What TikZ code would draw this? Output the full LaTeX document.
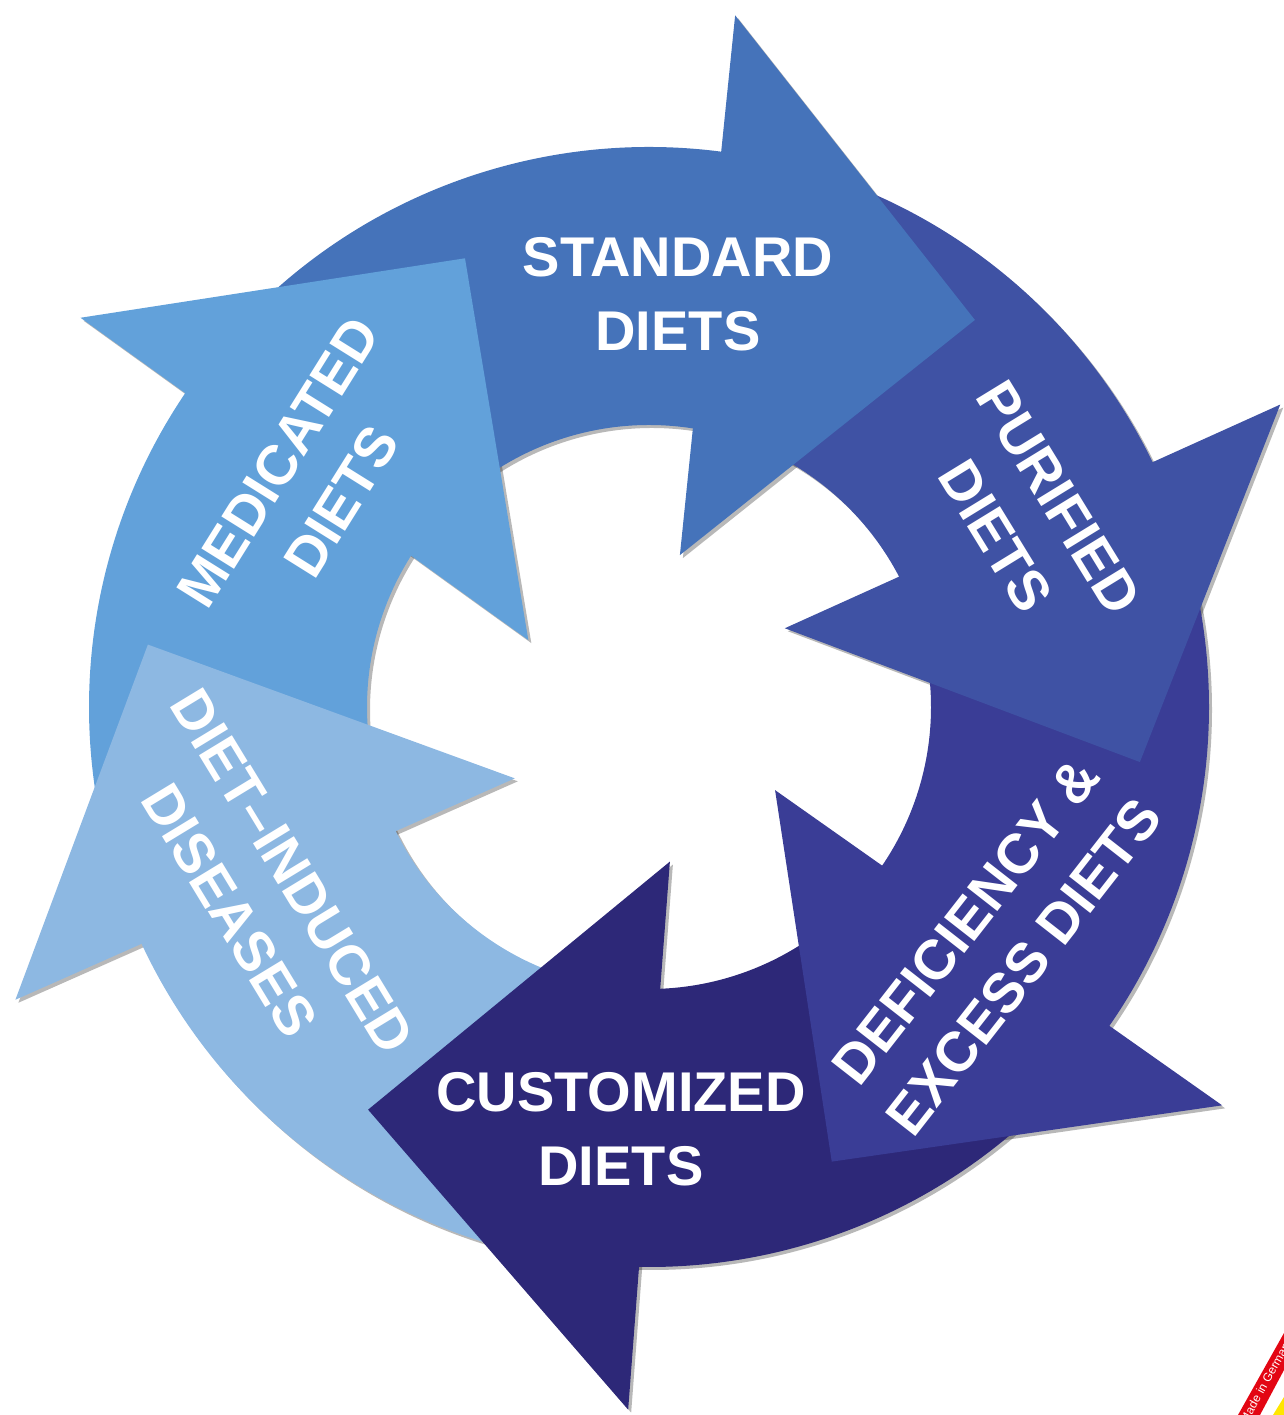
\documentclass[tikz,border=0pt]{standalone}
\usepackage{fontspec}
\setmainfont{Liberation Sans}

\definecolor{standardblue}{HTML}{4573BA}
\definecolor{purifiedblue}{HTML}{3F52A4}
\definecolor{deficiencyblue}{HTML}{3A3D96}
\definecolor{customizedblue}{HTML}{2D2878}
\definecolor{inducedblue}{HTML}{8DB8E2}
\definecolor{medicatedblue}{HTML}{62A1DA}
\definecolor{badgered}{HTML}{E30613}
\definecolor{badgeyellow}{HTML}{FFE600}

\begin{document}
\begin{tikzpicture}[x=0.5pt,y=0.5pt,
    dietshade/.style={black,opacity=0.28,xshift=1.5pt,yshift=-1.5pt},
    dietpaint/.style={#1},
    dietlabel/.style={text=white,font=\bfseries\fontsize{28}{37}\selectfont,align=center,inner sep=0pt}]

\useasboundingbox (0,0) rectangle (1284,1415);

% centre of the ring
\coordinate (hub) at (649,708);

\begin{scope}[shift={(hub)}]
% shadows first, then bodies, then heads (each head hides the next tail)
\foreach \layer in {shade,paint}{
  \foreach \tail/\stop/\col in {142/77/standardblue, 75/24.5/purifiedblue, 20/-36/deficiencyblue,
      -40/-93/customizedblue, -98/-156.5/inducedblue, 199/144.5/medicatedblue}
    \fill[diet\layer=\col] (\tail:560) arc[start angle=\tail,end angle=\stop,radius=560]
      -- (\stop:282) arc[start angle=\stop,end angle=\tail,radius=282] -- cycle;
  \foreach \ain/\rin/\aout/\rout/\atip/\rtip/\col in {
      78.5/155/82.9/697/49.9/506/standardblue,
      30.1/157/25.6/700/-6.4/494/purifiedblue,
      -33.4/151/-34.8/698/-68.1/490/deficiencyblue,
      -82.3/156/-91.7/703/-124.9/491/customizedblue,
      -152/152/-155.2/698/-187.1/505/inducedblue,
      151/138/145.6/689/112.3/485/medicatedblue}
    \fill[diet\layer=\col] (\ain:\rin) -- (\aout:\rout) -- (\atip:\rtip) -- cycle;
}
\end{scope}

\node[dietlabel] (standard) at (678,1121) {STANDARD\\DIETS};
\node[dietlabel,rotate=-58.5] (purified) at (1027,898) {PURIFIED\\DIETS};
\node[dietlabel,rotate=52] (deficiency) at (995,471) {DEFICIENCY \&\\EXCESS DIETS};
\node[dietlabel] (customized) at (621,286) {CUSTOMIZED\\DIETS};
\node[dietlabel,rotate=-58.7] (induced) at (261,524) {DIET\textendash INDUCED\\DISEASES};
\node[dietlabel,rotate=58] (medicated) at (310,933) {MEDICATED\\DIETS};

% corner badge, cut by the page edge
\begin{scope}
\clip (0,0) rectangle (1284,1415);
\fill[badgered] (1238,0) -- (1284,82) -- (1284,45) -- (1260,0) -- cycle;
\fill[badgeyellow] (1273,0) -- (1284,18) -- (1284,0) -- cycle;
\node[rotate=61,anchor=west,text=white,font=\fontsize{6}{6}\selectfont,inner sep=0pt] (badge) at (1244,-8) {Made in Germany};
\end{scope}

\end{tikzpicture}
\end{document}
